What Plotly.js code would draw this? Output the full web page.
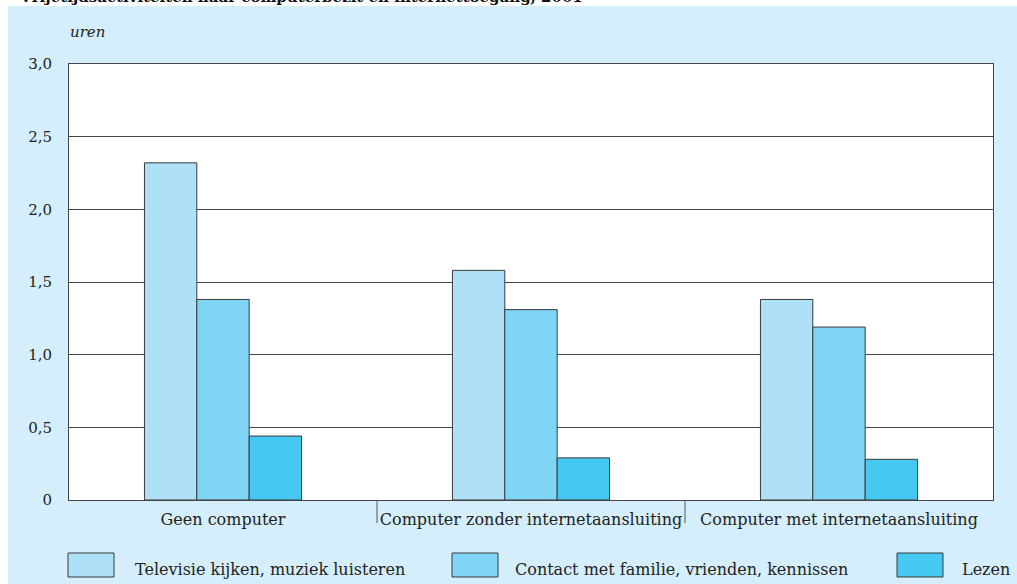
<!DOCTYPE html>
<html>
<head>
<meta charset="utf-8">
<script src="https://cdn.plot.ly/plotly-3.0.1.min.js"></script>
<style>
html,body{margin:0;padding:0;background:#fff;}
#chart{width:1017px;height:584px;}
</style>
</head>
<body>
<div id="chart"></div>
<script>
const categories = ["Geen computer", "Computer zonder internetaansluiting", "Computer met internetaansluiting"];
const seriesNames = ["Televisie kijken, muziek luisteren", "Contact met familie, vrienden, kennissen", "Lezen"];
const tvValues = [2.32, 1.58, 1.38];
const contactValues = [1.38, 1.31, 1.19];
const lezenValues = [0.44, 0.29, 0.28];
const yTickVals = [0, 0.5, 1, 1.5, 2, 2.5, 3];
const yTickText = ["0", "0,5", "1,0", "1,5", "2,0", "2,5", "3,0"];
const titleText = "Vrijetijdsactiviteiten naar computerbezit en internettoegang, 2001";
const unitText = "uren";

const colors = ["#aee0f8", "#80d4f5", "#45c8f2"];
const serif = "DejaVu Serif, Liberation Serif, serif";
const allValues = [tvValues, contactValues, lezenValues];

const traces = allValues.map((vals, i) => ({
  type: "bar",
  x: categories,
  y: vals,
  name: seriesNames[i],
  marker: {color: colors[i], line: {color: "#3a3a3a", width: 1}},
  hoverinfo: "x+y+name"
}));

// pixel helpers for decorations (plot area: l=69, r=24, t=64, b=84)
const W = 1017, H = 584, L = 69, R = 24, T = 64, B = 84;
const pw = W - L - R, ph = H - T - B;
const px = v => (v - L) / pw;
const py = v => (H - B - v) / ph;

const shapes = [
  {type: "rect", xref: "paper", yref: "paper", x0: px(8), x1: px(W + 2), y0: py(6), y1: py(H + 2),
   fillcolor: "#d5eefb", line: {width: 0}, layer: "below"},
  {type: "rect", xref: "paper", yref: "paper", x0: 0, x1: 1, y0: 0, y1: 1,
   fillcolor: "#ffffff", line: {width: 0}, layer: "below"}
];
// category dividers below axis
for (let k = 1; k < categories.length; k++) {
  shapes.push({type: "line", xref: "x", yref: "paper", x0: k - 0.5, x1: k - 0.5, y0: 0, y1: py(523),
    line: {color: "#555", width: 1}});
}
const legBoxX = [68, 452, 897];
const legTextX = [133, 513, 960];
const annotations = [
  {text: titleText, xref: "paper", yref: "paper", x: px(17), y: py(8), xanchor: "left", yanchor: "bottom",
   showarrow: false, font: {family: serif, size: 15, color: "#111", weight: "bold"}},
  {text: "<i>" + unitText + "</i>", xref: "paper", yref: "paper", x: px(68), y: py(32), xanchor: "left", yanchor: "middle",
   showarrow: false, font: {family: serif, size: 15, color: "#222"}}
];
seriesNames.forEach((n, i) => {
  shapes.push({type: "rect", xref: "paper", yref: "paper", x0: px(legBoxX[i]), x1: px(legBoxX[i] + 46),
    y0: py(553), y1: py(577), fillcolor: colors[i], line: {color: "#3a3a3a", width: 1}});
  annotations.push({text: n, xref: "paper", yref: "paper", x: px(legTextX[i]), y: py(569),
    xanchor: "left", yanchor: "middle", showarrow: false, font: {family: serif, size: 16, color: "#222"}});
});

const layout = {
  width: W, height: H,
  margin: {l: L, r: R, t: T, b: B, pad: 0},
  paper_bgcolor: "#ffffff",
  plot_bgcolor: "rgba(0,0,0,0)",
  showlegend: false,
  barmode: "group",
  bargap: 0.49,
  bargroupgap: 0,
  font: {family: serif, size: 16, color: "#222"},
  xaxis: {
    type: "category",
    showgrid: false,
    showline: true, linecolor: "#444", linewidth: 1, mirror: true,
    ticks: "outside", ticklen: 5, tickcolor: "rgba(0,0,0,0)",
    tickfont: {family: serif, size: 16, color: "#222"},
    fixedrange: true
  },
  yaxis: {
    range: [0, 3],
    tickvals: yTickVals, ticktext: yTickText,
    showgrid: true, gridcolor: "#444", gridwidth: 1,
    zeroline: false,
    showline: true, linecolor: "#444", linewidth: 1, mirror: true,
    ticks: "outside", ticklen: 13, tickcolor: "rgba(0,0,0,0)",
    tickfont: {family: serif, size: 15, color: "#222"},
    fixedrange: true
  },
  shapes: shapes,
  annotations: annotations
};

Plotly.newPlot("chart", traces, layout, {displayModeBar: false, staticPlot: true});
</script>
</body>
</html>
